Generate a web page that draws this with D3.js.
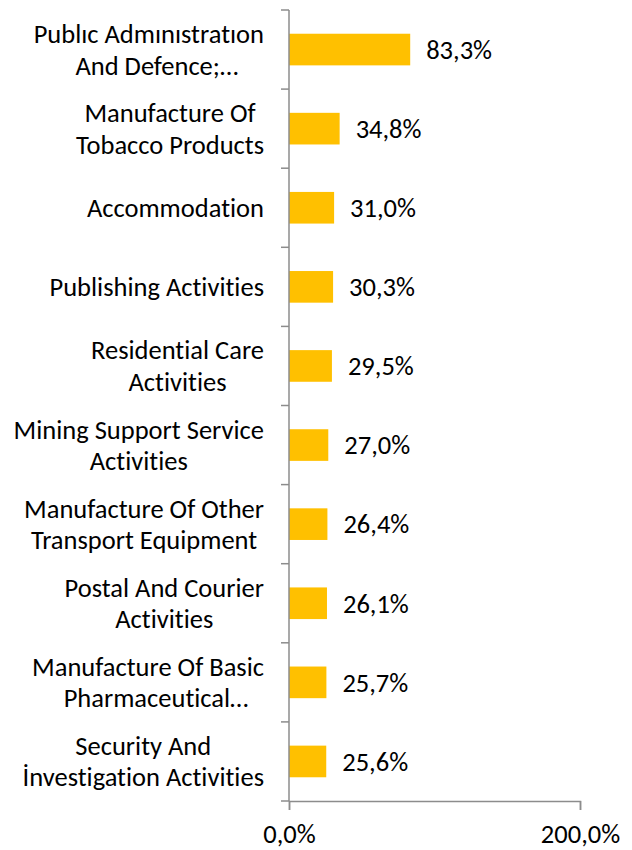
<!DOCTYPE html>
<html>
<head>
<meta charset="utf-8">
<script src="https://cdn.jsdelivr.net/npm/d3@7"></script>
<style>
  html, body { margin: 0; padding: 0; background: #fff; }
  svg text {
    font-family: Carlito, Calibri, Lato, sans-serif; fill: #000;
    font-variant-ligatures: none; font-feature-settings: "liga" 0, "clig" 0;
  }
</style>
</head>
<body>
<svg id="chart"></svg>
<script>
// categories, top to bottom (lines split with "|", as wrapped in the original)
const categories = [
  "Publıc Admınıstratıon|And Defence;…",
  "Manufacture Of|Tobacco Products",
  "Accommodation",
  "Publishing Activities",
  "Residential Care|Activities",
  "Mining Support Service|Activities",
  "Manufacture Of Other|Transport Equipment",
  "Postal And Courier|Activities",
  "Manufacture Of Basic|Pharmaceutical…",
  "Security And|İnvestigation Activities"
];
const values = [83.3, 34.8, 31.0, 30.3, 29.5, 27.0, 26.4, 26.1, 25.7, 25.6];
const xTicks = [0, 200];

const W = 632, H = 850;
const m = { top: 10, left: 289, right: 52, bottom: 49 };
const fontSize = 26.5;
const lineH = 31.5;
const ellipsisShift = 8; // truncated lines sit a little right of centre

const svg = d3.select('#chart').attr('width', W).attr('height', H);

const loc = d3.formatLocale({ decimal: ',', thousands: '.', grouping: [3], currency: ['', ''] });
const pct = v => loc.format('.1f')(v) + '%';

const x = d3.scaleLinear().domain([0, 200]).range([m.left, W - m.right]);
const y = d3.scaleBand().domain(categories).range([m.top, H - m.bottom])
  .paddingInner(0.6).paddingOuter(0.3);
const step = y.step();
const axisCol = '#8c8c8c';

// bars
svg.append('g').selectAll('rect').data(categories).join('rect')
  .attr('x', x(0))
  .attr('y', d => y(d))
  .attr('width', (d, i) => x(values[i]) - x(0))
  .attr('height', y.bandwidth())
  .attr('fill', '#ffc000');

// value labels
svg.append('g').selectAll('text').data(categories).join('text')
  .attr('x', (d, i) => x(values[i]) + 16)
  .attr('y', d => y(d) + y.bandwidth() / 2)
  .attr('dy', '0.35em')
  .style('font-size', fontSize + 'px')
  .text((d, i) => pct(values[i]));

// y axis: line + ticks at category boundaries
const yAx = svg.append('g');
const bounds = categories.map(c => y(c) - (step - y.bandwidth()) / 2);
bounds.push(H - m.bottom);
yAx.append('line').attr('x1', x(0)).attr('x2', x(0))
  .attr('y1', m.top).attr('y2', H - m.bottom)
  .attr('stroke', axisCol).attr('stroke-width', 1.5);
yAx.selectAll('.yt').data(bounds).join('line')
  .attr('x1', x(0) - 8).attr('x2', x(0))
  .attr('y1', d => d).attr('y2', d => d)
  .attr('stroke', axisCol).attr('stroke-width', 1.5);

// category labels: lines centred within a right-aligned block
const labelRight = 264;
categories.forEach(c => {
  const lines = c.split('|');
  const g = svg.append('g');
  const cy = y(c) + y.bandwidth() / 2;
  const t = g.selectAll('text').data(lines).join('text')
    .attr('y', (d, i) => cy + (i - (lines.length - 1) / 2) * lineH)
    .attr('dy', '0.35em')
    .attr('text-anchor', 'middle')
    .style('font-size', fontSize + 'px')
    .text(d => d);
  const maxW = d3.max(t.nodes(), n => n.getComputedTextLength());
  t.attr('x', d => labelRight - maxW / 2 + (d.endsWith('…') ? ellipsisShift : 0));
});

// x axis
const xAx = svg.append('g').attr('transform', `translate(0,${H - m.bottom})`)
  .call(d3.axisBottom(x).tickValues(xTicks).tickSize(9).tickPadding(14).tickFormat(pct));
xAx.select('.domain').attr('stroke', axisCol).attr('stroke-width', 1.5);
xAx.selectAll('.tick line').attr('stroke', axisCol).attr('stroke-width', 1.5);
xAx.selectAll('.tick text').style('font-size', fontSize + 'px').attr('fill', '#000')
  .style('font-family', 'Carlito, Calibri, Lato, sans-serif');
</script>
</body>
</html>
